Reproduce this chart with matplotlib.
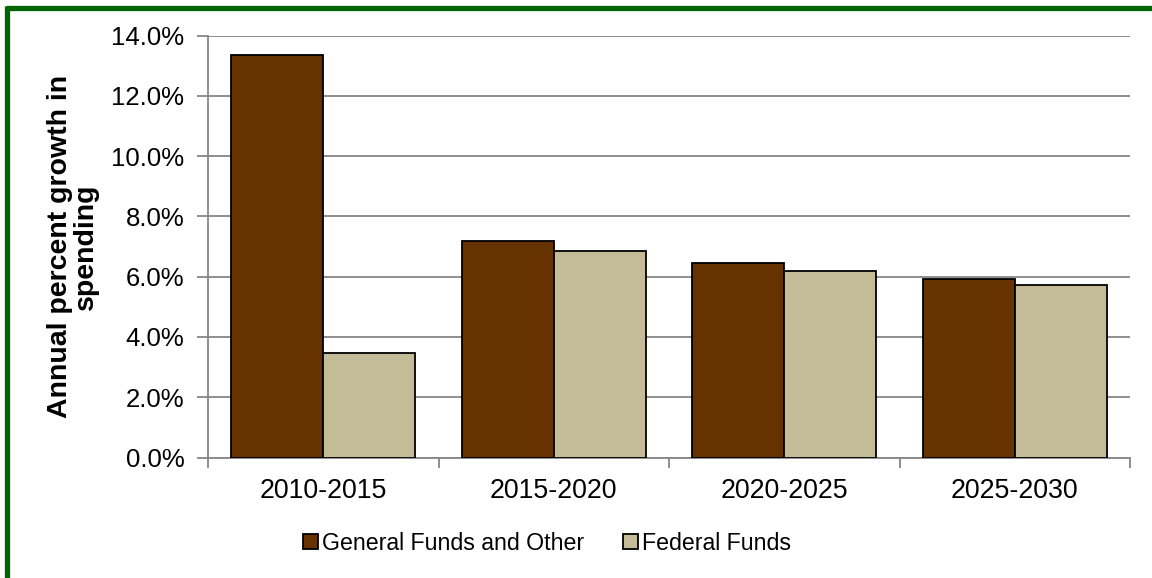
import matplotlib
matplotlib.use("Agg")
import matplotlib.pyplot as plt
import numpy as np
from matplotlib.lines import Line2D
from matplotlib.ticker import FuncFormatter, FixedLocator

plt.rcParams['font.family'] = ['Liberation Sans', 'DejaVu Sans']

categories = ["2010-2015", "2015-2020", "2020-2025", "2025-2030"]
general_funds = [13.37, 7.18, 6.47, 5.91]
federal_funds = [3.47, 6.86, 6.19, 5.74]
series_names = ["General Funds and Other", "Federal Funds"]
y_ticks = [0, 2, 4, 6, 8, 10, 12, 14]

W, H = 1152, 578
fig = plt.figure(figsize=(W / 100, H / 100), dpi=100)
ax = fig.add_axes([208 / W, 1 - 457.5 / H, (1130 - 208) / W, (457.5 - 35.7) / H])

x = np.arange(len(categories))
bw = 0.4
grid_c = "#868686"
ax.bar(x - bw / 2, general_funds, bw, color="#663300", edgecolor="black", linewidth=1.3,
       label=series_names[0], zorder=3)
ax.bar(x + bw / 2, federal_funds, bw, color="#C4BC96", edgecolor="black", linewidth=1.3,
       label=series_names[1], zorder=3)

ax.set_xlim(-0.5, len(categories) - 0.5)
ax.set_ylim(0, 14)
ax.set_yticks(y_ticks)
ax.yaxis.set_major_formatter(FuncFormatter(lambda v, p: f"{v:.1f}%"))
ax.yaxis.grid(True, color=grid_c, linewidth=1.3, zorder=0)
ax.set_axisbelow(True)

ax.xaxis.set_major_locator(FixedLocator(np.arange(len(categories) + 1) - 0.5))
ax.xaxis.set_major_formatter(FuncFormatter(lambda v, p: ""))
ax.xaxis.set_minor_locator(FixedLocator(x))
ax.set_xticklabels(categories, minor=True)
ax.tick_params(axis='x', which='major', length=7, width=1.3, color=grid_c, direction='out')
ax.tick_params(axis='x', which='minor', length=0, pad=15, labelsize=19.3)
ax.tick_params(axis='y', which='major', length=8, width=1.3, color=grid_c, direction='out',
               pad=9, labelsize=18.5)

for s in ["top", "right"]:
    ax.spines[s].set_visible(False)
for s in ["left", "bottom"]:
    ax.spines[s].set_color(grid_c)
    ax.spines[s].set_linewidth(1.3)

ax.set_ylabel("Annual percent growth in\nspending", fontsize=20.5, fontweight="bold",
              labelpad=9, linespacing=1.0)

fig.legend(loc="center", bbox_to_anchor=(547 / W, 1 - 543 / H), ncol=2, frameon=False,
           fontsize=16.7, handlelength=0.65, handleheight=0.65, handletextpad=0.2,
           columnspacing=1.65)

gc = "#006400"
fig.add_artist(Line2D([6 / W, 1], [1 - 7.5 / H, 1 - 7.5 / H], transform=fig.transFigure,
                      color=gc, linewidth=3.8, solid_capstyle="butt"))
fig.add_artist(Line2D([7 / W, 7 / W], [0, 1 - 5.5 / H], transform=fig.transFigure,
                      color=gc, linewidth=3.8, solid_capstyle="butt"))

fig.savefig("out.png", dpi=100)
